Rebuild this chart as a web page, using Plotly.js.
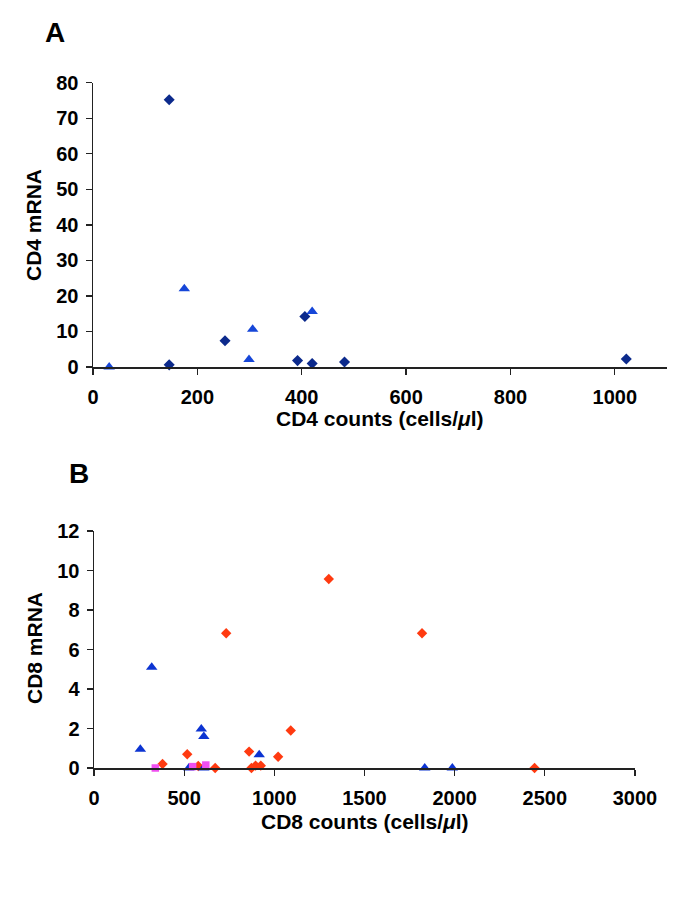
<!DOCTYPE html>
<html>
<head>
<meta charset="utf-8">
<script src="https://cdn.plot.ly/plotly-3.0.1.min.js"></script>
<style>html,body{margin:0;padding:0;background:#fff;}#chart{width:685px;height:903px;}</style>
</head>
<body>
<div id="chart"></div>
<script>
// Panel A: CD4 counts vs CD4 mRNA
const cd4DiamondX = [146, 146, 253, 392, 406, 420, 482, 1022];
const cd4DiamondY = [75.2, 0.6, 7.4, 1.8, 14.2, 1.0, 1.4, 2.25];
const cd4TriangleX = [31, 175, 299, 306, 420];
const cd4TriangleY = [0.0, 22.0, 2.1, 10.6, 15.6];

// Panel B: CD8 counts vs CD8 mRNA
const cd8DiamondX = [380, 517, 578, 672, 733, 860, 873, 896, 925, 1021, 1091, 1302, 1819, 2443];
const cd8DiamondY = [0.2, 0.7, 0.1, 0.0, 6.82, 0.83, 0.0, 0.12, 0.12, 0.57, 1.9, 9.57, 6.82, 0.0];
const cd8TriangleX = [257, 320, 526, 595, 609, 609, 916, 1834, 1987];
const cd8TriangleY = [0.95, 5.1, 0.0, 1.98, 1.6, 0.0, 0.67, 0.0, 0.0];
const cd8SquareX = [340, 547, 620];
const cd8SquareY = [0.0, 0.07, 0.15];

const ticksA_x = [0, 200, 400, 600, 800, 1000];
const ticksA_y = [0, 10, 20, 30, 40, 50, 60, 70, 80];
const ticksB_x = [0, 500, 1000, 1500, 2000, 2500, 3000];
const ticksB_y = [0, 2, 4, 6, 8, 10, 12];

const W = 685, H = 903;
const px = v => v / W;
const py = v => 1 - v / H;
const FONT = 'Liberation Sans, Arial, Helvetica, sans-serif';

function mk(x, y, xa, ya, sym, size, color) {
  return {x: x, y: y, xaxis: xa, yaxis: ya, type: 'scatter', mode: 'markers',
    cliponaxis: false, hoverinfo: 'x+y',
    marker: {symbol: sym, size: size, color: color, line: {width: 0}}};
}

const data = [
  mk(cd4DiamondX, cd4DiamondY, 'x', 'y', 'diamond', 8.5, '#0c2a8c'),
  mk(cd4TriangleX, cd4TriangleY, 'x', 'y', 'triangle-up', 10, '#1646d8'),
  mk(cd8DiamondX, cd8DiamondY, 'x2', 'y2', 'diamond', 8, '#ff3a10'),
  mk(cd8TriangleX, cd8TriangleY, 'x2', 'y2', 'triangle-up', 10, '#0c34d2'),
  mk(cd8SquareX, cd8SquareY, 'x2', 'y2', 'square', 7.5, '#f050f0')
];

const axBase = {
  showgrid: false, zeroline: false, showline: true, linecolor: '#222', linewidth: 1.5,
  ticks: 'outside', ticklen: 6, tickwidth: 1.3, tickcolor: '#222',
  tickfont: {family: FONT, size: 20, color: '#000', weight: 'bold'},
  fixedrange: true, tickmode: 'array'
};

const layout = {
  width: W, height: H,
  margin: {l: 0, r: 0, t: 0, b: 0},
  paper_bgcolor: '#fff', plot_bgcolor: '#fff',
  showlegend: false,
  xaxis: Object.assign({}, axBase, {domain: [px(93), px(667)], range: [0, 1100], anchor: 'y',
    tickvals: ticksA_x, ticktext: ticksA_x.map(String), ticklabelstandoff: 5}),
  yaxis: Object.assign({}, axBase, {domain: [py(367), py(82.7)], range: [0, 80], anchor: 'x',
    tickvals: ticksA_y, ticktext: ticksA_y.map(String), ticklabelstandoff: 3}),
  xaxis2: Object.assign({}, axBase, {domain: [px(94), px(635)], range: [0, 3000], anchor: 'y2',
    tickvals: ticksB_x, ticktext: ticksB_x.map(String), ticklabelstandoff: 5}),
  yaxis2: Object.assign({}, axBase, {domain: [py(768), py(531)], range: [0, 12], anchor: 'x2',
    tickvals: ticksB_y, ticktext: ticksB_y.map(String), ticklabelstandoff: 3}),
  annotations: [
    {text: 'A', x: px(55), y: py(32), xref: 'paper', yref: 'paper', showarrow: false,
     xanchor: 'center', yanchor: 'middle', font: {family: FONT, size: 28, color: '#000', weight: 'bold'}},
    {text: 'B', x: px(79), y: py(473), xref: 'paper', yref: 'paper', showarrow: false,
     xanchor: 'center', yanchor: 'middle', font: {family: FONT, size: 28, color: '#000', weight: 'bold'}},
    {text: 'CD4 mRNA', x: px(34), y: py(225), xref: 'paper', yref: 'paper', showarrow: false, textangle: -90,
     xanchor: 'center', yanchor: 'middle', font: {family: FONT, size: 21, color: '#000', weight: 'bold'}},
    {text: 'CD8 mRNA', x: px(34), y: py(648), xref: 'paper', yref: 'paper', showarrow: false, textangle: -90,
     xanchor: 'center', yanchor: 'middle', font: {family: FONT, size: 21, color: '#000', weight: 'bold'}},
    {text: 'CD4 counts (cells/<i>μ</i>l)', x: px(380), y: py(419), xref: 'paper', yref: 'paper', showarrow: false,
     xanchor: 'center', yanchor: 'middle', font: {family: FONT, size: 21, color: '#000', weight: 'bold'}},
    {text: 'CD8 counts (cells/<i>μ</i>l)', x: px(365), y: py(821), xref: 'paper', yref: 'paper', showarrow: false,
     xanchor: 'center', yanchor: 'middle', font: {family: FONT, size: 21, color: '#000', weight: 'bold'}}
  ]
};

Plotly.newPlot('chart', data, layout, {staticPlot: true, displayModeBar: false});
</script>
</body>
</html>
